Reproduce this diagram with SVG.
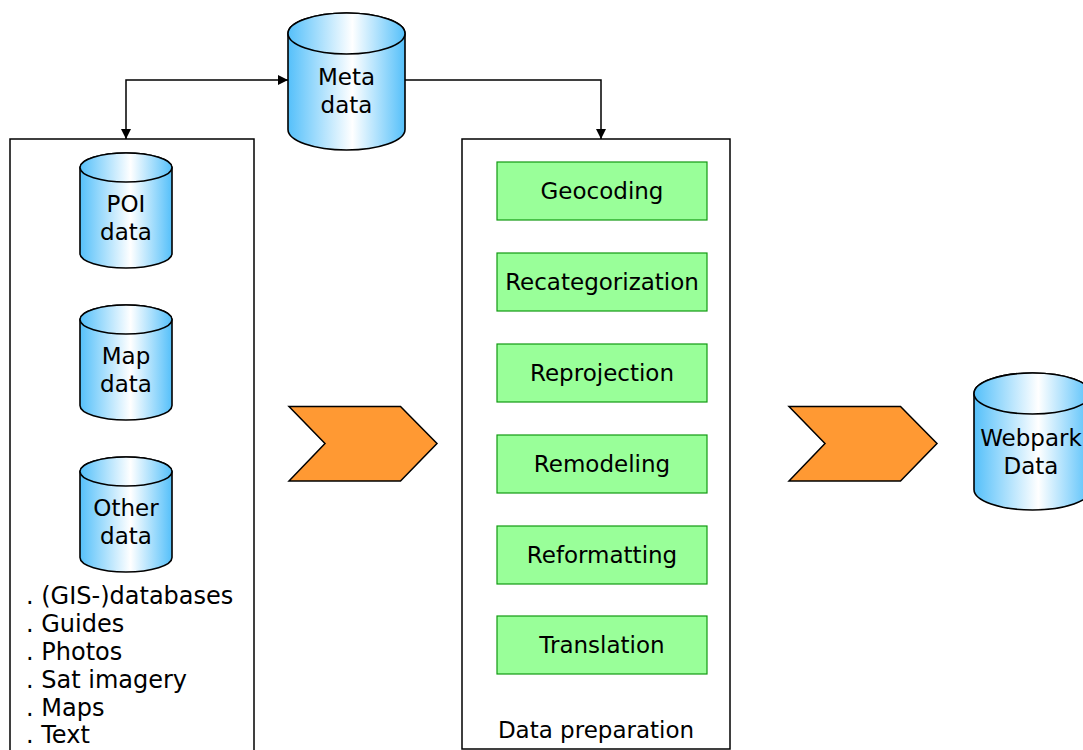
<svg xmlns="http://www.w3.org/2000/svg" width="1083" height="750" viewBox="0 0 1083 750">
  <defs>
    <linearGradient id="cyl" x1="0" y1="0" x2="1" y2="0">
      <stop offset="0" stop-color="#55c0fa"/>
      <stop offset="0.55" stop-color="#ffffff"/>
      <stop offset="1" stop-color="#55c0fa"/>
    </linearGradient>
    <marker id="arr" viewBox="0 0 10 10" refX="10" refY="5" markerWidth="10" markerHeight="10" markerUnits="userSpaceOnUse" orient="auto-start-reverse">
      <path d="M0,0 L10,5 L0,10 z" fill="#000"/>
    </marker>
  </defs>
  <style>
    text { font-family: "DejaVu Sans", Verdana, sans-serif; font-size: 23px; fill: #000; }
    .mid { text-anchor: middle; }
    .list { font-size: 24px; }
    .frame { fill: #fff; stroke: #000; stroke-width: 1.5; }
    .cyl { fill: url(#cyl); stroke: #000; stroke-width: 1.6; }
    .step { fill: #99ff99; stroke: #119911; stroke-width: 1.2; }
    .chev { fill: #ff9933; stroke: #000; stroke-width: 1.5; stroke-linejoin: miter; }
    .link { fill: none; stroke: #000; stroke-width: 1.5; }
  </style>
  <rect width="1083" height="750" fill="#fff"/>

  <!-- source container -->
  <g id="sources">
    <rect class="frame" x="10" y="139" width="244" height="620"/>
    <text class="list" x="26" y="604">. (GIS-)databases</text>
    <text class="list" x="26" y="632">. Guides</text>
    <text class="list" x="26" y="660">. Photos</text>
    <text class="list" x="26" y="688">. Sat imagery</text>
    <text class="list" x="26" y="716">. Maps</text>
    <text class="list" x="26" y="743">. Text</text>
  </g>

  <g id="poi-data">
    <path class="cyl" d="M80,167.5 A46,14.5 0 0 1 172,167.5 L172,253.5 A46,14.5 0 0 1 80,253.5 Z"/>
    <ellipse class="cyl" cx="126" cy="167.5" rx="46" ry="14.5"/>
    <text class="mid" x="126" y="212">POI</text>
    <text class="mid" x="126" y="240">data</text>
  </g>
  <g id="map-data">
    <path class="cyl" d="M80,319.5 A46,14.5 0 0 1 172,319.5 L172,405.5 A46,14.5 0 0 1 80,405.5 Z"/>
    <ellipse class="cyl" cx="126" cy="319.5" rx="46" ry="14.5"/>
    <text class="mid" x="126" y="364">Map</text>
    <text class="mid" x="126" y="392">data</text>
  </g>
  <g id="other-data">
    <path class="cyl" d="M80,471.5 A46,14.5 0 0 1 172,471.5 L172,557.5 A46,14.5 0 0 1 80,557.5 Z"/>
    <ellipse class="cyl" cx="126" cy="471.5" rx="46" ry="14.5"/>
    <text class="mid" x="126" y="516">Other</text>
    <text class="mid" x="126" y="544">data</text>
  </g>

  <g id="meta-data">
    <path class="cyl" d="M288,33.5 A58.5,20.5 0 0 1 405,33.5 L405,129.5 A58.5,20.5 0 0 1 288,129.5 Z"/>
    <ellipse class="cyl" cx="346.5" cy="33.5" rx="58.5" ry="20.5"/>
    <text class="mid" x="346.5" y="85">Meta</text>
    <text class="mid" x="346.5" y="113">data</text>
  </g>

  <!-- preparation container -->
  <g id="preparation">
    <rect class="frame" x="462" y="139" width="268" height="610"/>
    <text class="mid" x="596" y="738">Data preparation</text>
  </g>
  <g id="geocoding">
    <rect class="step" x="497" y="162" width="210" height="58"/>
    <text class="mid" x="602" y="199">Geocoding</text>
  </g>
  <g id="recategorization">
    <rect class="step" x="497" y="253" width="210" height="58"/>
    <text class="mid" x="602" y="290">Recategorization</text>
  </g>
  <g id="reprojection">
    <rect class="step" x="497" y="344" width="210" height="58"/>
    <text class="mid" x="602" y="381">Reprojection</text>
  </g>
  <g id="remodeling">
    <rect class="step" x="497" y="435" width="210" height="58"/>
    <text class="mid" x="602" y="472">Remodeling</text>
  </g>
  <g id="reformatting">
    <rect class="step" x="497" y="526" width="210" height="58"/>
    <text class="mid" x="602" y="563">Reformatting</text>
  </g>
  <g id="translation">
    <rect class="step" x="497" y="616" width="210" height="58"/>
    <text class="mid" x="602" y="653">Translation</text>
  </g>

  <g id="flow-1">
    <polygon class="chev" points="289,406.5 400.5,406.5 437,443.5 400.5,481 289,481 325,443.5"/>
  </g>
  <g id="flow-2">
    <polygon class="chev" points="789,406.5 900.5,406.5 937,443.5 900.5,481 789,481 825,443.5"/>
  </g>

  <g id="webpark-data">
    <path class="cyl" d="M974,393.5 A58.5,20.5 0 0 1 1091,393.5 L1091,489.5 A58.5,20.5 0 0 1 974,489.5 Z"/>
    <ellipse class="cyl" cx="1032.5" cy="393.5" rx="58.5" ry="20.5"/>
    <text class="mid" x="1031" y="446">Webpark</text>
    <text class="mid" x="1031" y="474">Data</text>
  </g>

  <!-- connectors -->
  <g id="connectors">
    <path class="link" d="M126,139 L126,80 L288,80" marker-start="url(#arr)" marker-end="url(#arr)"/>
    <path class="link" d="M405,80 L601,80 L601,139" marker-end="url(#arr)"/>
  </g>
</svg>
